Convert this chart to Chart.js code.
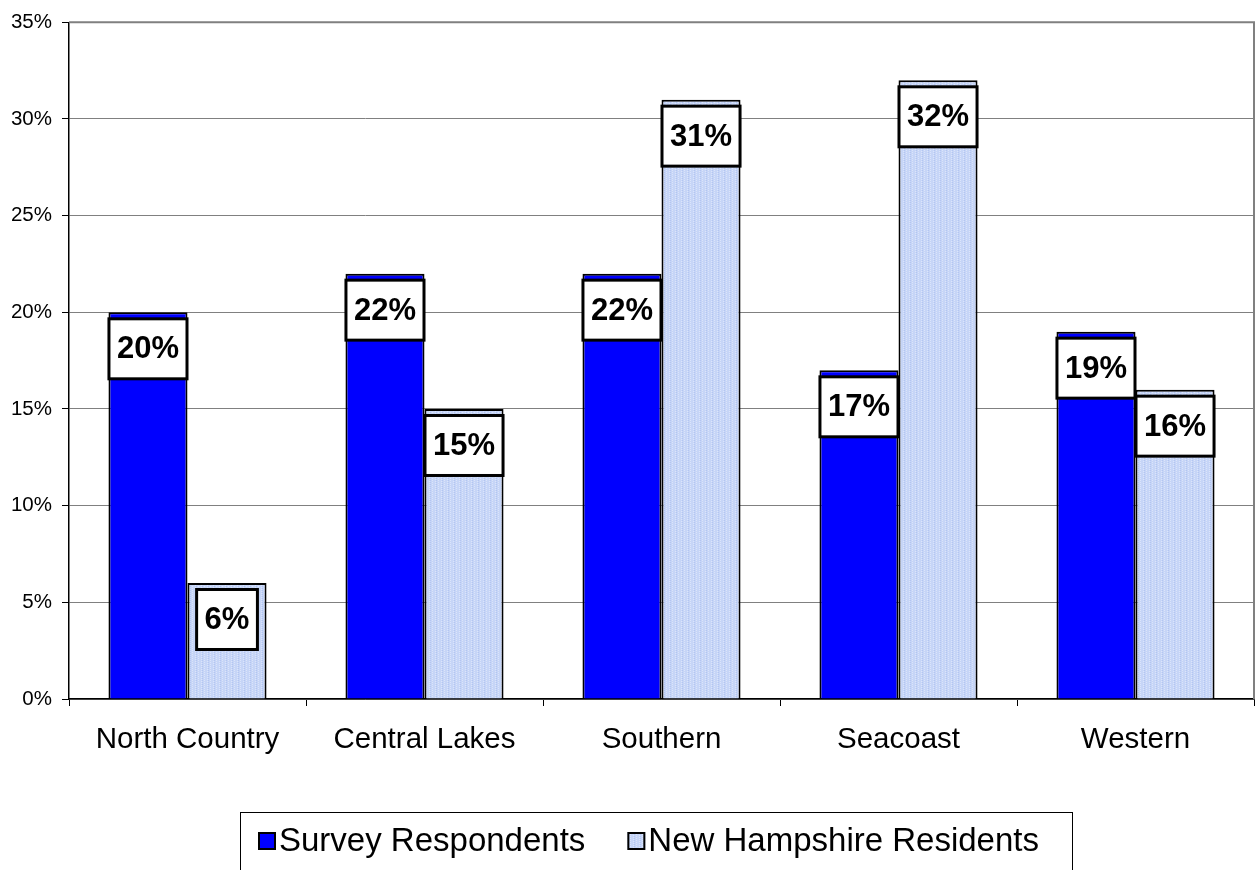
<!DOCTYPE html>
<html>
<head>
<meta charset="utf-8">
<script src="https://cdn.jsdelivr.net/npm/chart.js@4.4.0/dist/chart.umd.min.js"></script>
<style>
html, body { margin: 0; padding: 0; background: #fff; }
</style>
</head>
<body>
<canvas id="chart" width="1256" height="870"></canvas>
<script>
// ** DATA: ** //

var regions = ['North Country', 'Central Lakes', 'Southern', 'Seacoast', 'Western'];
var surveyRespondents = [20, 22, 22, 17, 19];
var nhResidents = [6, 15, 31, 32, 16];
var seriesNames = ['Survey Respondents', 'New Hampshire Residents'];

var FONT = 'Arial, "Liberation Sans", sans-serif';

// ** FUNCTIONS: ** //

function makePattern() {
	var c = document.createElement('canvas');
	c.width = 6;
	c.height = 6;
	var p = c.getContext('2d');
	p.fillStyle = '#c6d5f7';
	p.fillRect(0, 0, 6, 6);
	p.fillStyle = '#dbe4fa';
	for (var y = 0; y < 6; y++) {
		p.fillRect((y % 2) * 3, y, 1, 1);
	}
	p.fillStyle = '#b3c5f1';
	for (var y2 = 0; y2 < 6; y2 += 2) {
		p.fillRect(4, y2, 1, 1);
	}
	return p.createPattern(c, 'repeat');
}

var lightFill = makePattern();

var valueBoxes = {
	id: 'valueBoxes',
	afterDatasetsDraw: function(chart) {
		var ctx = chart.ctx;
		ctx.save();
		ctx.font = 'bold 31px ' + FONT;
		chart.data.datasets.forEach(function(ds, di) {
			var meta = chart.getDatasetMeta(di);
			meta.data.forEach(function(bar, i) {
				var text = ds.data[i] + '%';
				var w = ctx.measureText(text).width + 16;
				var h = 60;
				var left = bar.x - w / 2;
				var top = bar.y + 6.5;
				ctx.fillStyle = '#fff';
				ctx.fillRect(left, top, w, h);
				ctx.lineWidth = 3;
				ctx.strokeStyle = '#000';
				ctx.strokeRect(left, top, w, h);
				ctx.fillStyle = '#000';
				ctx.textAlign = 'center';
				ctx.textBaseline = 'middle';
				ctx.fillText(text, bar.x, top + h / 2 + 1);
			});
		});
		ctx.restore();
	}
};

var frameAndLegend = {
	id: 'frameAndLegend',
	afterDraw: function(chart) {
		var ctx = chart.ctx;
		var a = chart.chartArea;
		ctx.save();
		// gray frame top + right
		ctx.strokeStyle = '#808080';
		ctx.lineWidth = 2;
		ctx.beginPath();
		ctx.moveTo(a.left, a.top);
		ctx.lineTo(a.right, a.top);
		ctx.lineTo(a.right, a.bottom);
		ctx.stroke();

		// legend box
		ctx.strokeStyle = '#000';
		ctx.lineWidth = 1;
		ctx.strokeRect(240.5, 812.5, 832, 80);

		ctx.font = '33px ' + FONT;
		ctx.textBaseline = 'middle';
		ctx.textAlign = 'left';
		var x = 258;
		var fills = ['#0000ff', lightFill];
		for (var i = 0; i < seriesNames.length; i++) {
			ctx.fillStyle = fills[i];
			ctx.fillRect(x, 832, 18, 18);
			ctx.lineWidth = 2;
			ctx.strokeStyle = '#000';
			ctx.strokeRect(x + 1, 833, 16, 16);
			ctx.fillStyle = '#000';
			ctx.fillText(seriesNames[i], x + 21, 842);
			x = x + 21 + ctx.measureText(seriesNames[i]).width + 42;
		}
		ctx.restore();
	}
};

// ** ENTRY POINT: ** //

new Chart(document.getElementById('chart'), {
	type: 'bar',
	data: {
		labels: regions,
		datasets: [{
			label: seriesNames[0],
			data: surveyRespondents,
			backgroundColor: '#0000ff',
			borderColor: '#000',
			borderWidth: 2
		}, {
			label: seriesNames[1],
			data: nhResidents,
			backgroundColor: lightFill,
			borderColor: '#000',
			borderWidth: 2
		}]
	},
	options: {
		responsive: false,
		devicePixelRatio: 1,
		animation: false,
		layout: { padding: { top: 19, right: 2, left: 0, bottom: 0 } },
		plugins: {
			legend: { display: false },
			tooltip: { enabled: false }
		},
		datasets: {
			bar: { categoryPercentage: 0.667, barPercentage: 1.0 }
		},
		scales: {
			x: {
				grid: { offset: true, drawOnChartArea: false, tickLength: 7, color: '#000' },
				border: { color: '#000', width: 1.5 },
				ticks: { color: '#000', font: { family: FONT, size: 29.5 }, padding: 16, maxRotation: 0, autoSkip: false },
				afterFit: function(scale) { scale.height = 171; }
			},
			y: {
				min: 0,
				max: 35,
				grid: { color: '#808080', lineWidth: 1, tickColor: '#000', tickLength: 7 },
				border: { color: '#000', width: 1.5 },
				ticks: {
					stepSize: 5,
					color: '#000',
					padding: 10,
					font: { family: FONT, size: 20.5 },
					callback: function(v) { return v + '%'; }
				},
				afterFit: function(scale) { scale.width = 69; }
			}
		}
	},
	plugins: [valueBoxes, frameAndLegend]
});
</script>
</body>
</html>
